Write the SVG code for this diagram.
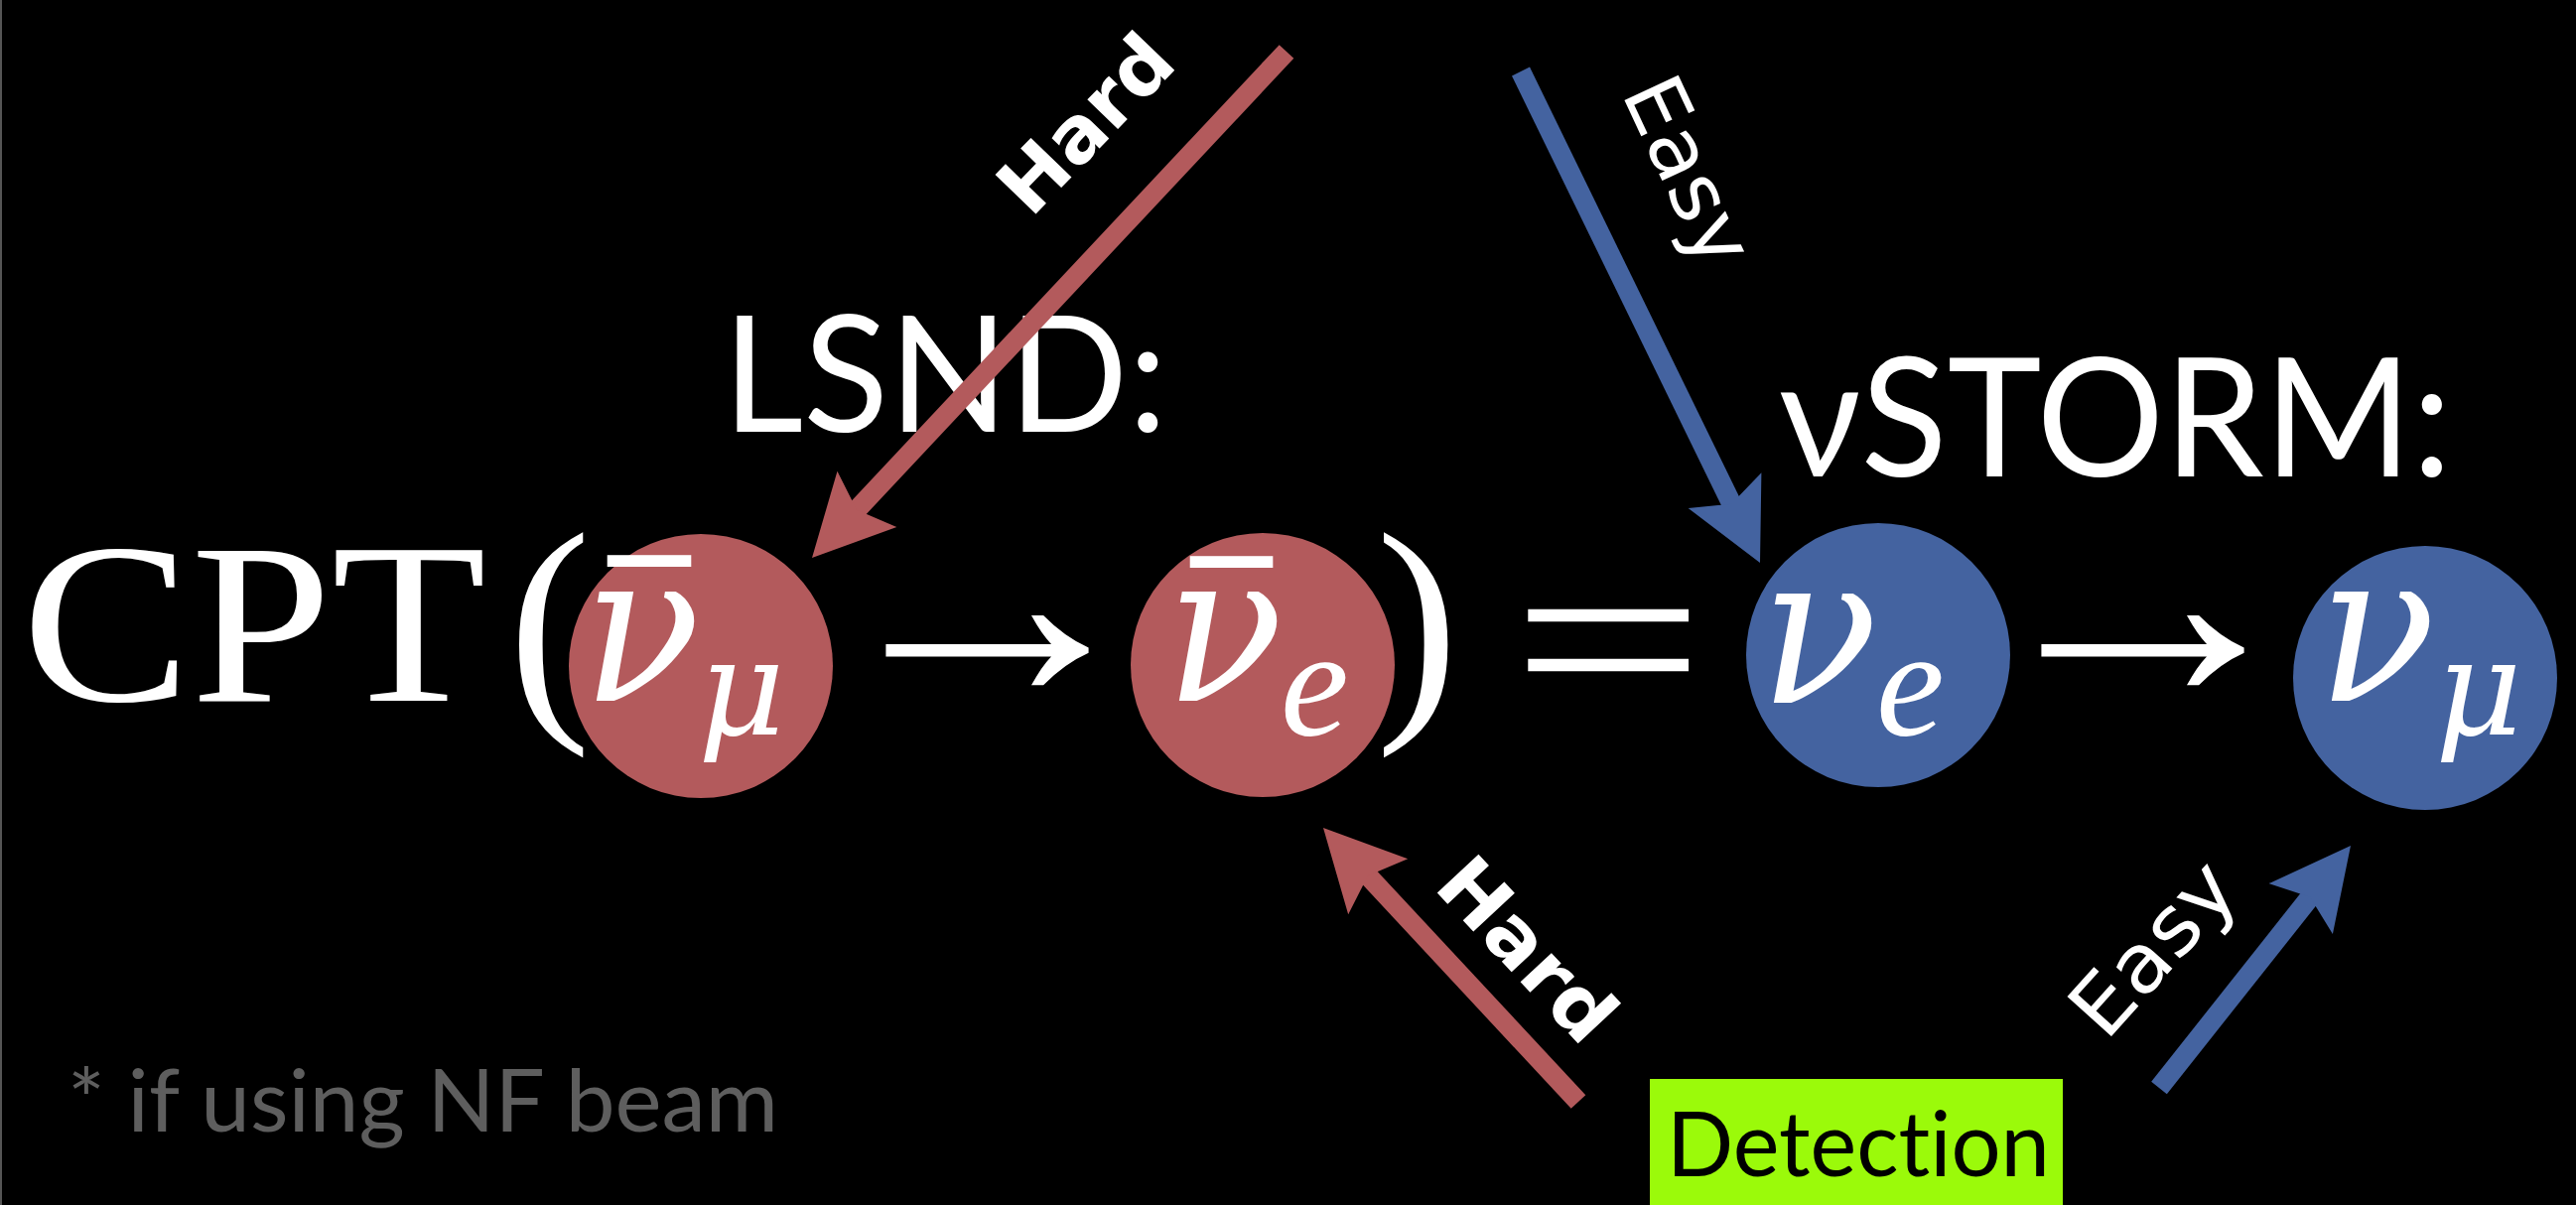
<svg xmlns="http://www.w3.org/2000/svg" width="2595" height="1214" viewBox="0 0 2595 1214">
<style>
.red{fill:#B35A5C}
.blue{fill:#4463A0}
.math{font-family:"Liberation Serif","Times New Roman",serif;fill:#fff}
.gr{font-family:"DejaVu Serif",serif;font-style:italic;fill:#fff}
.it{font-style:italic}
.bar{font-family:"Liberation Sans",Arial,sans-serif;fill:#fff;font-size:256px}
.sans{font-family:Lato,"Noto Sans","DejaVu Sans",sans-serif;font-variant-ligatures:none}
.lbl{font-family:"DejaVu Sans",sans-serif;fill:#fff;text-anchor:middle}
.hard{font-weight:bold;font-size:78px}
.easy{font-size:82px}
.rs{stroke:#B35A5C;stroke-width:20;fill:none}
.bs{stroke:#4463A0;stroke-width:20;fill:none}
</style>
<defs>
<polygon id="head" points="0,0 -81,-41 -66,0 -81,41"/>
</defs>
<rect x="0" y="0" width="2595" height="1214" fill="#000"/>
<rect x="0" y="0" width="2" height="1214" fill="#555"/>

<g id="formula">
<text class="math" x="22" y="706" font-size="232" textLength="468" lengthAdjust="spacingAndGlyphs">CPT</text>
<text class="math" x="512" y="710" font-size="250">(</text>
<text class="math" x="1386" y="710" font-size="250">)</text>
<text class="math" transform="translate(822,705) scale(1.15,1)" font-size="300">→</text>
<text class="math" x="1620" y="728" font-size="250" text-anchor="middle" textLength="196" lengthAdjust="spacingAndGlyphs">=</text>
<text class="math" transform="translate(1986,705) scale(1.15,1)" font-size="300">→</text>
</g>

<g id="node-numubar">
<circle class="red" cx="706" cy="671" r="133"/>
<text class="gr" transform="translate(587,706) scale(0.92,1)" font-size="212">ν</text>
<text class="bar" x="613" y="753" textLength="82" lengthAdjust="spacingAndGlyphs">¯</text>
<text class="gr" x="703" y="740" font-size="135">μ</text>
</g>
<g id="node-nuebar">
<circle class="red" cx="1272" cy="670" r="133"/>
<text class="gr" transform="translate(1174,706) scale(0.92,1)" font-size="212">ν</text>
<text class="bar" x="1200" y="754" textLength="81" lengthAdjust="spacingAndGlyphs">¯</text>
<text class="math it" x="1290" y="740" font-size="155">e</text>
</g>
<g id="node-nue">
<circle class="blue" cx="1892" cy="660" r="133"/>
<text class="gr" transform="translate(1773,708) scale(0.92,1)" font-size="212">ν</text>
<text class="math it" x="1890" y="740" font-size="155">e</text>
</g>
<g id="node-numu">
<circle class="blue" cx="2443" cy="683" r="133"/>
<text class="gr" transform="translate(2335,706) scale(0.92,1)" font-size="212">ν</text>
<text class="gr" x="2453" y="740" font-size="135">μ</text>
</g>

<g id="label-lsnd">
<text class="sans" x="728" y="435" font-size="163" fill="#fff" textLength="448" lengthAdjust="spacingAndGlyphs">LSND:</text>
</g>
<g id="label-vstorm">
<text class="sans" x="1792" y="480" font-size="166" fill="#fff" textLength="678" lengthAdjust="spacingAndGlyphs">νSTORM:</text>
</g>

<g id="node-detection">
<rect x="1662" y="1087" width="416" height="127" fill="#9BFA0A"/>
<text class="sans" x="1679" y="1185" font-size="91" fill="#000" textLength="386" lengthAdjust="spacingAndGlyphs">Detection</text>
</g>

<g id="footnote">
<text class="sans" x="68" y="1140" font-size="88" fill="#5E5E5E" textLength="716" lengthAdjust="spacingAndGlyphs">* if using NF beam</text>
</g>

<g id="connectors">
<line class="rs" x1="1296" y1="52" x2="859" y2="518"/>
<use href="#head" class="red" transform="translate(818,562) rotate(133.14)"/>
<line class="bs" x1="1532" y1="72" x2="1747" y2="513"/>
<use href="#head" class="blue" transform="translate(1773,567) rotate(64.04)"/>
<line class="rs" x1="1590" y1="1110" x2="1374" y2="878"/>
<use href="#head" class="red" transform="translate(1333,834) rotate(-132.96)"/>
<line class="bs" x1="2175" y1="1096" x2="2331" y2="899"/>
<use href="#head" class="blue" transform="translate(2368,852) rotate(-51.66)"/>
</g>

<g id="connector-labels">
<text class="lbl hard" transform="translate(1093,124) rotate(-46)" x="0" y="28" textLength="215" lengthAdjust="spacingAndGlyphs">Hard</text>
<text class="lbl easy" transform="translate(1697,174) rotate(65)" x="0" y="24" textLength="200" lengthAdjust="spacingAndGlyphs">Easy</text>
<text class="lbl hard" transform="translate(1539,956) rotate(47)" x="0" y="28" textLength="222" lengthAdjust="spacingAndGlyphs">Hard</text>
<text class="lbl easy" transform="translate(2172,958) rotate(-48)" x="0" y="24" textLength="205" lengthAdjust="spacingAndGlyphs">Easy</text>
</g>
</svg>
